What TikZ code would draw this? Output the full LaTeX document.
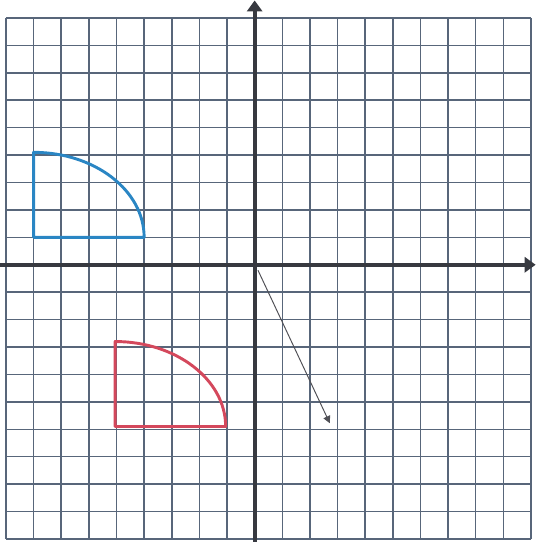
\documentclass[tikz,border=0pt]{standalone}
\usepackage{xcolor}
\usepackage{tikz}
\usetikzlibrary{arrows.meta,calc}

\definecolor{gridcol}{RGB}{88,102,122}
\definecolor{axiscol}{RGB}{55,57,64}
\definecolor{bluecol}{RGB}{42,134,196}
\definecolor{redcol}{RGB}{212,72,92}
\definecolor{pencol}{RGB}{80,80,86}

\begin{document}
\begin{tikzpicture}[
  x=1cm, y=0.9924cm,
  gridline/.style={draw=gridcol, line width=1.6pt},
  axis/.style={draw=axiscol, line width=4pt, -{Triangle[length=4mm,width=5.5mm]}},
  sector/.style={line width=3pt, line join=round},
  vec/.style={draw=pencol, line width=1pt, -{Triangle[length=2.6mm,width=2.6mm]}}]
\useasboundingbox (-9.217,-10.111) rectangle (10.182,9.656);
% graph paper
\draw[gridline] (-9,-10) grid[step=1] (10,9);
% axes
\draw[axis] (-9.217,0) -- (10.17,0);
\draw[axis] (0,-10.111) -- (0,9.64);
% blue quarter shape
\draw[sector, draw=bluecol] (-8,1) -- (-4,1)
  arc[start angle=0, end angle=90, x radius=4, y radius=3.1] -- cycle;
% red quarter shape
\draw[sector, draw=redcol] (-5.05,-5.9) -- (-1.05,-5.9)
  arc[start angle=0, end angle=90, x radius=4, y radius=3.1] -- cycle;
% hand drawn vector
\coordinate (start) at (0.12,-0.2);
\coordinate (tip) at (2.72,-5.78);
\draw[vec] (start) -- (tip);
\end{tikzpicture}
\end{document}
